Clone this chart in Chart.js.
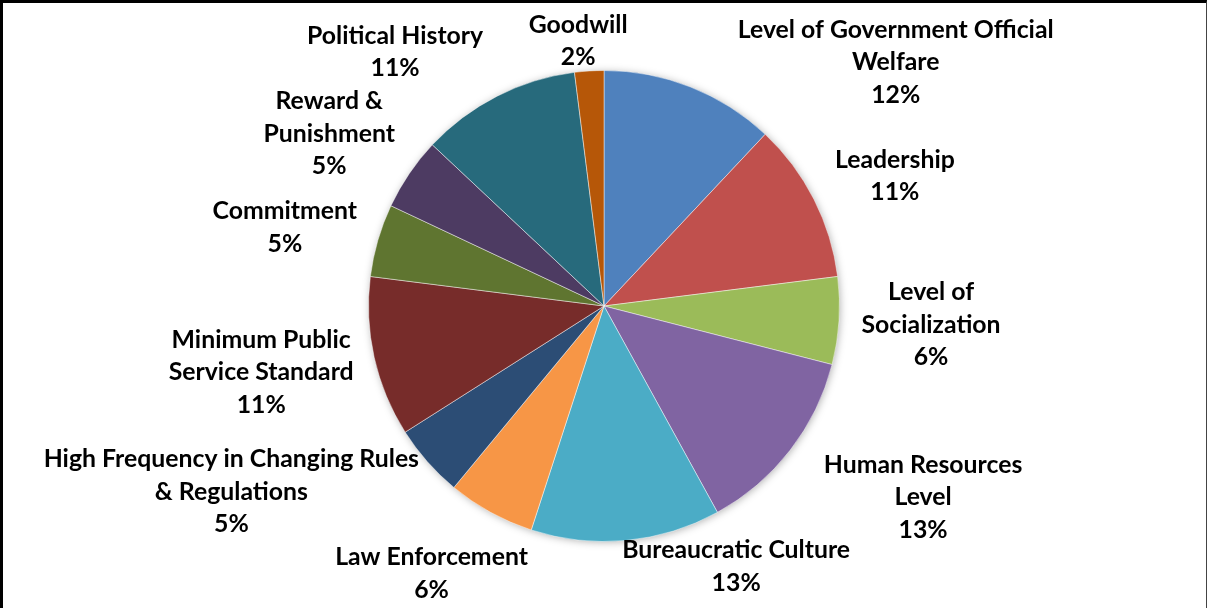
<!DOCTYPE html>
<html>
<head>
<meta charset="utf-8">
<title>Factors</title>
<script src="https://cdn.jsdelivr.net/npm/chart.js@4.4.1/dist/chart.umd.min.js"></script>
<style>
  html, body { margin: 0; padding: 0; background: #fff; }
  .frame { position: relative; width: 1207px; height: 608px; }
  .frame::after {
    content: ""; position: absolute; left: 0; top: 0; right: 0; bottom: 0;
    border-top: 3px solid #000; border-left: 3px solid #000;
    border-right: 1px solid #444;
    pointer-events: none;
  }
</style>
</head>
<body>
<div class="frame">
  <canvas id="chart" width="1207" height="608"></canvas>
</div>
<script>
// categories (multi-line as printed next to each slice)
const factors = [
  ["Level of Government Official", "Welfare"],
  ["Leadership"],
  ["Level of", "Socialization"],
  ["Human Resources", "Level"],
  ["Bureaucratic Culture"],
  ["Law Enforcement"],
  ["High Frequency in Changing Rules", "& Regulations"],
  ["Minimum Public", "Service Standard"],
  ["Commitment"],
  ["Reward &", "Punishment"],
  ["Political History"],
  ["Goodwill"],
];

// share of each factor, percent
const shares = [12, 11, 6, 13, 13, 6, 5, 11, 5, 5, 11, 2];

const sliceColors = [
  "#4F81BD", "#C0504D", "#9BBB59", "#8064A2", "#4BACC6", "#F79646",
  "#2C4D75", "#772C2A", "#5F7530", "#4D3B62", "#276A7C", "#B65708",
];

// label offset (px) from the point where the slice's mid-angle meets the rim
const labelShift = [
  [205, -25], [81, -23], [92, 4], [133, 47], [110, 26], [-59, 61],
  [-196, 30], [-113, 15], [-93, -13], [-80, -40], [-102, -44], [-11, -30],
];

// soft shadow under the whole pie
const pieShadow = {
  id: "pieShadow",
  beforeDatasetsDraw(chart) {
    const arc = chart.getDatasetMeta(0).data[0];
    if (!arc) return;
    const ctx = chart.ctx;
    ctx.save();
    ctx.shadowColor = "rgba(0,0,0,0.35)";
    ctx.shadowBlur = 8;
    ctx.shadowOffsetX = 1;
    ctx.shadowOffsetY = 1;
    ctx.fillStyle = "#fff";
    ctx.beginPath();
    ctx.arc(arc.x, arc.y, arc.outerRadius - 1, 0, Math.PI * 2);
    ctx.fill();
    ctx.restore();
  },
};

// outside labels: name lines + percent
const sliceLabels = {
  id: "sliceLabels",
  afterDatasetsDraw(chart) {
    const ctx = chart.ctx;
    const lineH = 32.5;
    ctx.save();
    ctx.font = "bold 24.8px Lato";
    ctx.fillStyle = "#000";
    ctx.textAlign = "center";
    ctx.textBaseline = "middle";
    chart.getDatasetMeta(0).data.forEach((arc, i) => {
      const mid = (arc.startAngle + arc.endAngle) / 2;
      const ax = arc.x + Math.cos(mid) * arc.outerRadius;
      const ay = arc.y + Math.sin(mid) * arc.outerRadius;
      const cx = ax + labelShift[i][0];
      const cy = ay + labelShift[i][1];
      const lines = factors[i].concat([shares[i] + "%"]);
      const top = cy - (lines.length - 1) * lineH / 2;
      lines.forEach((t, k) => ctx.fillText(t, cx, top + k * lineH));
    });
    ctx.restore();
  },
};

const chart = document.querySelector("#chart").getContext("2d");

new Chart(chart, {
  type: "pie",
  data: {
    labels: factors,
    datasets: [
      {
        data: shares,
        backgroundColor: sliceColors,
        borderColor: "rgba(255,255,255,0.45)",
        borderWidth: 1,
      },
    ],
  },
  options: {
    responsive: false,
    animation: false,
    layout: { padding: { left: 368, right: 367, top: 70, bottom: 66 } },
    plugins: {
      legend: { display: false },
      tooltip: { enabled: false },
    },
  },
  plugins: [pieShadow, sliceLabels],
});
</script>
</body>
</html>
